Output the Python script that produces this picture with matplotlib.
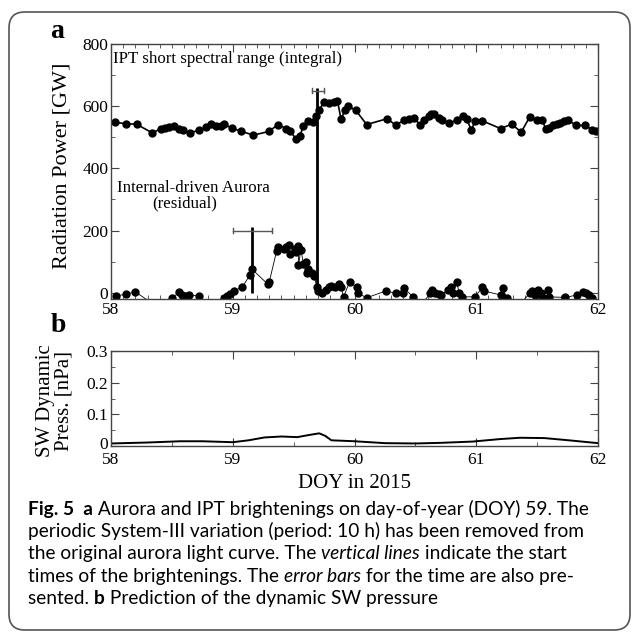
import matplotlib
matplotlib.use("Agg")
import matplotlib.pyplot as plt
import matplotlib.transforms as mtrans
from matplotlib.patches import FancyBboxPatch
from matplotlib.ticker import MultipleLocator

# IPT short spectral range (integral), DOY vs GW
ipt_doy = [58.03, 58.12, 58.21, 58.34, 58.41, 58.44, 58.48, 58.52, 58.56, 58.59,
           58.65, 58.72, 58.78, 58.82, 58.86, 58.90, 58.93, 58.99, 59.07, 59.17,
           59.30, 59.37, 59.44, 59.47, 59.52, 59.55, 59.58, 59.62, 59.66, 59.68,
           59.71, 59.75, 59.79, 59.83, 59.86, 59.89, 59.92, 59.95, 60.01, 60.10,
           60.27, 60.34, 60.41, 60.45, 60.49, 60.54, 60.57, 60.61, 60.63, 60.65,
           60.69, 60.72, 60.78, 60.84, 60.89, 60.92, 60.96, 60.99, 61.05, 61.20,
           61.29, 61.37, 61.44, 61.50, 61.54, 61.57, 61.60, 61.63, 61.66, 61.69,
           61.72, 61.75, 61.82, 61.89, 61.95, 61.98]
ipt_gw = [548, 544, 542, 514, 528, 531, 533, 537, 528, 523,
          515, 522, 532, 544, 536, 536, 542, 530, 519, 507,
          519, 541, 528, 519, 496, 503, 536, 553, 549, 570,
          587, 614, 611, 614, 617, 558, 587, 600, 587, 541,
          560, 538, 557, 560, 562, 539, 557, 568, 574, 576,
          563, 555, 546, 555, 568, 560, 523, 553, 553, 528,
          542, 517, 566, 555, 557, 528, 531, 538, 544, 546,
          553, 557, 538, 538, 525, 521]

# internal-driven aurora (residual)
aur_doy = [58.04, 58.12, 58.20, 58.38, 58.50, 58.56, 58.58, 58.61, 58.64, 58.72,
           58.82, 58.93, 58.95, 58.98, 59.01, 59.08, 59.14, 59.16, 59.29, 59.30,
           59.36, 59.37, 59.42, 59.44, 59.46, 59.47, 59.51, 59.52, 59.54, 59.54,
           59.56, 59.58, 59.60, 59.61, 59.62, 59.65, 59.67, 59.69, 59.70, 59.73,
           59.77, 59.79, 59.81, 59.84, 59.87, 59.89, 59.91, 59.96, 60.02, 60.03,
           60.10, 60.26, 60.34, 60.40, 60.41, 60.48, 60.55, 60.62, 60.64, 60.66,
           60.69, 60.71, 60.77, 60.79, 60.81, 60.84, 60.86, 60.88, 60.99, 61.05,
           61.06, 61.20, 61.22, 61.25, 61.35, 61.44, 61.46, 61.48, 61.51, 61.53,
           61.54, 61.59, 61.60, 61.73, 61.83, 61.88, 61.90, 61.93, 61.95]
aur_gw = [-10, -5, 3, -45, -16, 1, -7, -10, -7, -10,
          -45, -16, -11, -5, 6, 19, 57, 75, 27, 35,
          134, 147, 142, 147, 155, 126, 142, 131, 149, 89,
          139, 94, 99, 64, 78, 64, 53, 19, 6, -2,
          9, 17, 21, 19, 27, 17, -13, 35, 17, -2,
          -16, 6, -2, 0, 14, -13, -40, -2, 9, -2,
          -4, -7, 9, 19, -2, 35, -2, -13, -13, 17,
          6, -7, 14, -18, -40, -2, 6, -7, 9, -2,
          -13, 9, -13, -15, -7, 3, -2, -7, -16]

# brightening start times with time error bars
start_doy = [59.16, 59.69]
start_top = [210, 658]
err_y = [200, 650]
err_lo = [59.00, 59.65]
err_hi = [59.32, 59.75]

# SW dynamic pressure prediction
sw_doy = [58.0, 58.3, 58.57, 58.75, 59.0, 59.13, 59.26, 59.4, 59.53, 59.63, 59.71,
          59.76, 59.81, 60.0, 60.25, 60.5, 60.71, 60.97, 61.2, 61.36, 61.56, 61.76, 62.0]
sw_p = [0.008, 0.011, 0.015, 0.015, 0.012, 0.018, 0.027, 0.030, 0.028, 0.035, 0.040,
        0.032, 0.018, 0.015, 0.009, 0.008, 0.010, 0.014, 0.022, 0.026, 0.025, 0.018, 0.009]

days = [58, 59, 60, 61, 62]

plt.rcParams['font.family'] = 'Liberation Serif'
W, H = 632, 634
fig = plt.figure(figsize=(W / 100, H / 100), dpi=100)


def fx(px):
    return px / W


def fy(py):
    return 1 - py / H


spine_c = '#444444'


def style(ax):
    for s in ax.spines.values():
        s.set_color(spine_c)
        s.set_linewidth(1.0)
    ax.tick_params(which='both', direction='in', top=True, right=True,
                   colors=spine_c, labelcolor='black', labelsize=12.5, pad=2)
    ax.tick_params(which='major', length=6)
    ax.tick_params(which='minor', length=3)


# panel a
ax = fig.add_axes([fx(111), fy(299), fx(598) - fx(111), fy(44) - fy(299)])
ax.plot(ipt_doy, ipt_gw, '-o', color='black', lw=1.2, ms=5)
ax.plot(aur_doy, aur_gw, '-o', color='black', lw=0.6, ms=5)
ax.vlines(start_doy, [0, 0], start_top, color='black', lw=2)
for y, lo, hi in zip(err_y, err_lo, err_hi):
    ax.plot([lo, hi], [y, y], color='#555555', lw=1)
    ax.plot([lo, lo], [y - 8, y + 8], color='#555555', lw=1)
    ax.plot([hi, hi], [y - 8, y + 8], color='#555555', lw=1)
ax.set_xlim(58, 62)
ax.set_ylim(-20, 800)
ax.set_xticks(days)
ax.xaxis.set_minor_locator(MultipleLocator(0.1))
ax.set_yticks([0, 200, 400, 600, 800])
ax.yaxis.set_minor_locator(MultipleLocator(100))
style(ax)
ax.text(0.005, 0.943, 'IPT short spectral range (integral)', transform=ax.transAxes,
        fontsize=12.2, va='center', ha='left')
ax.text(0.013, 0.434, 'Internal-driven Aurora', transform=ax.transAxes,
        fontsize=12.2, va='center', ha='left')
ax.text(0.085, 0.374, '(residual)', transform=ax.transAxes,
        fontsize=12.2, va='center', ha='left')

# panel b
bx = fig.add_axes([fx(111), fy(446), fx(598) - fx(111), fy(351) - fy(446)])
bx.plot(sw_doy, sw_p, color='black', lw=1.4)
bx.set_xlim(58, 62)
bx.set_ylim(0, 0.3)
bx.set_xticks(days)
bx.xaxis.set_minor_locator(MultipleLocator(0.5))
bx.set_yticks([0, 0.1, 0.2, 0.3])
bx.set_yticklabels(['0', '0.1', '0.2', '0.3'])
bx.yaxis.set_minor_locator(MultipleLocator(0.05))
style(bx)
bx.tick_params(axis='x', pad=4)
# lift the "0" a touch so it clears the "58" below it
zero_lbl = bx.get_yticklabels()[0]
zero_lbl.set_transform(zero_lbl.get_transform() +
                       mtrans.ScaledTranslation(0, 3 / 100, fig.dpi_scale_trans))

fig.text(fx(57), fy(31), 'a', fontsize=20, fontweight='bold', ha='center', va='center')
fig.text(fx(58), fy(326), 'b', fontsize=20, fontweight='bold', ha='center', va='center')
fig.text(fx(62), fy(166), 'Radiation Power [GW]', fontsize=16, rotation=90,
         ha='center', va='center')
fig.text(fx(55), fy(401), 'SW Dynamic\nPress. [nPa]', fontsize=15, rotation=90,
         ha='center', va='center', linespacing=1.0)
fig.text(fx(355), fy(483), 'DOY in 2015', fontsize=15, ha='center', va='center')

# caption, built piece by piece so bold/italic words sit inline
cap_font = 'Lato'
caption = [
    [('Fig. 5', 'bold', 'normal'), ('  a', 'bold', 'normal'),
     (' Aurora and IPT brightenings on day-of-year (DOY) 59. The', 'normal', 'normal')],
    [('periodic System-III variation (period: 10 h) has been removed from', 'normal', 'normal')],
    [('the original aurora light curve. The ', 'normal', 'normal'),
     ('vertical lines', 'normal', 'italic'),
     (' indicate the start', 'normal', 'normal')],
    [('times of the brightenings. The ', 'normal', 'normal'),
     ('error bars', 'normal', 'italic'),
     (' for the time are also pre-', 'normal', 'normal')],
    [('sented. ', 'normal', 'normal'), ('b', 'bold', 'normal'),
     (' Prediction of the dynamic SW pressure', 'normal', 'normal')],
]
renderer = fig.canvas.get_renderer()
probe = fig.text(0, 0, caption[1][0][0], family=cap_font, fontsize=10)
w = probe.get_window_extent(renderer).width
probe.remove()
cap_size = 10 * 557 / w

base_y = 515
for i, line in enumerate(caption):
    x = 28
    y = base_y + i * 22.2
    for txt, weight, st in line:
        t = fig.text(fx(x), fy(y), txt.replace(' ', '\u00a0'), family=cap_font,
                     fontsize=cap_size, fontweight=weight, fontstyle=st,
                     ha='left', va='baseline')
        x += t.get_window_extent(renderer).width

border = FancyBboxPatch((fx(9), fy(630)), fx(630) - fx(9), fy(12) - fy(630),
                        boxstyle='round,pad=0,rounding_size=0.025',
                        transform=fig.transFigure, fill=False, ec='#555555', lw=1.2)
fig.add_artist(border)

fig.savefig('out.png', dpi=100)
